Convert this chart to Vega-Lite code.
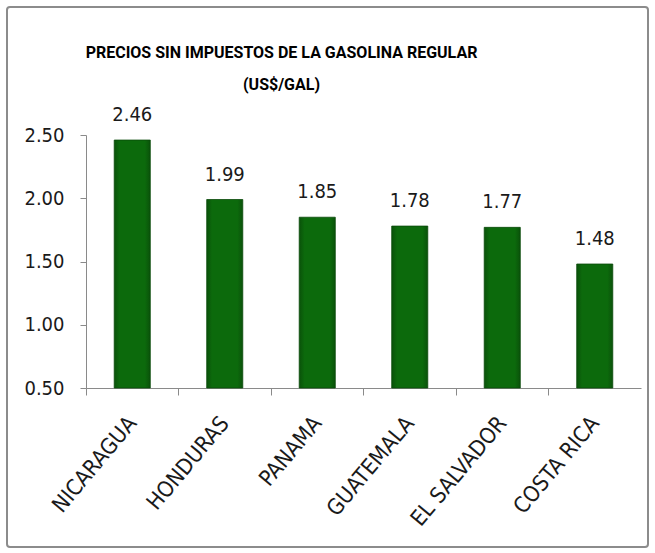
{
  "$schema": "https://vega.github.io/schema/vega-lite/v6.json",
  "width": 641,
  "height": 540,
  "autosize": {"type": "none"},
  "padding": {"left": 7, "top": 7, "right": 7, "bottom": 6},
  "background": "white",
  "title": {
    "text": ["PRECIOS SIN IMPUESTOS DE LA GASOLINA REGULAR", "(US$/GAL)"],
    "font": "Roboto",
    "fontWeight": "bold",
    "fontSize": 16,
    "color": "#000000",
    "anchor": "middle",
    "frame": "group",
    "dx": -46,
    "offset": -86,
    "lineHeight": 32
  },
  "config": {
    "view": {"stroke": "#8c8c8c", "strokeWidth": 2, "cornerRadius": 3},
    "axis": {"labelFont": "DejaVu Sans Condensed", "labelColor": "#1a1a1a", "labelFontSize": 20, "domainColor": "#8a8a8a", "tickColor": "#8a8a8a", "grid": false, "title": null}
  },
  "data": {
    "values": [
      {"pais": "NICARAGUA", "precio": 2.46},
      {"pais": "HONDURAS", "precio": 1.99},
      {"pais": "PANAMA", "precio": 1.85},
      {"pais": "GUATEMALA", "precio": 1.78},
      {"pais": "EL SALVADOR", "precio": 1.77},
      {"pais": "COSTA RICA", "precio": 1.48}
    ]
  },
  "encoding": {
    "x": {
      "field": "pais",
      "type": "nominal",
      "sort": null,
      "scale": {"range": [79, 634], "paddingInner": 0, "paddingOuter": 0},
      "axis": {"orient": "bottom", "offset": -159, "labelAngle": -50, "labelAlign": "right", "labelBaseline": "middle", "labelFontSize": 22, "labelPadding": 24, "tickSize": 7, "bandPosition": 0}
    },
    "y": {
      "field": "precio",
      "type": "quantitative",
      "scale": {"domain": [0.5, 2.5], "range": [381, 128], "zero": false, "nice": false},
      "axis": {"orient": "left", "offset": -79, "values": [0.5, 1, 1.5, 2, 2.5], "format": ".2f", "tickSize": 6, "labelPadding": 16}
    }
  },
  "layer": [
    {
      "mark": {
        "type": "bar",
        "width": {"band": 0.39},
        "stroke": "#0a4a0a",
        "strokeWidth": 0.8,
        "fill": {
          "gradient": "linear",
          "x1": 0, "y1": 0, "x2": 1, "y2": 0,
          "stops": [
            {"offset": 0, "color": "#0a520a"},
            {"offset": 0.15, "color": "#0c6a0c"},
            {"offset": 0.85, "color": "#0c6a0c"},
            {"offset": 1, "color": "#0a520a"}
          ]
        }
      },
      "encoding": {"y2": {"datum": 0.5}}
    },
    {
      "mark": {"type": "text", "dy": -19, "baseline": "alphabetic", "font": "DejaVu Sans Condensed", "fontSize": 20, "color": "#1a1a1a"},
      "encoding": {"text": {"field": "precio", "type": "quantitative", "format": ".2f"}}
    }
  ]
}
